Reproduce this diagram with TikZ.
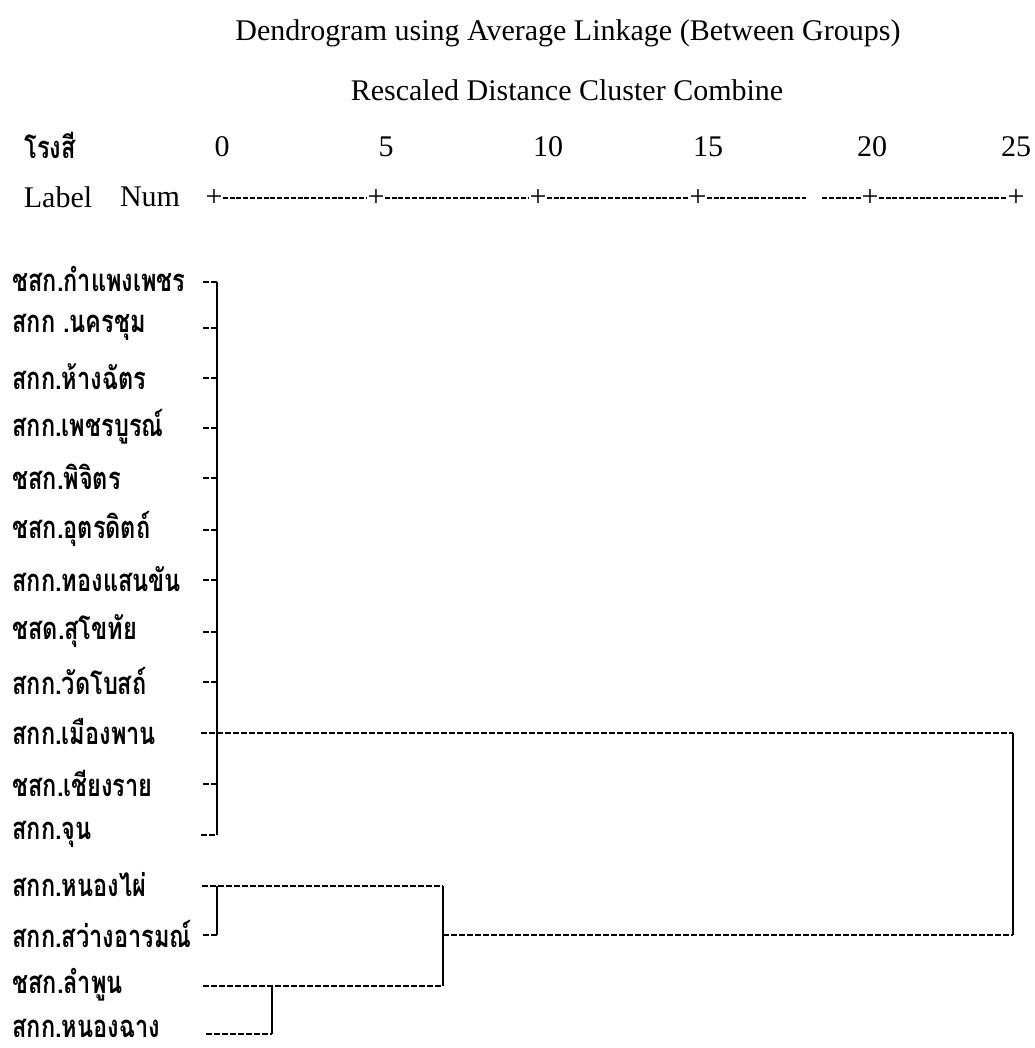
\documentclass[tikz,border=0pt]{standalone}
\usepackage{fontspec}
\setmainfont{Liberation Serif}
\newfontfamily\thaifont[Script=Thai,FakeStretch=0.76]{Loma}

\begin{document}
\begin{tikzpicture}[x=0.5pt,y=-0.5pt,
  head/.style={font=\fontsize{15}{18}\selectfont,inner sep=0pt},
  lbl/.style={font=\thaifont\bfseries\fontsize{15.5}{18}\selectfont,anchor=west,inner sep=0pt},
  tick/.style={line width=1.15pt,dash pattern=on 3pt off 1pt},
  joinline/.style={line width=1.35pt},
  axisdash/.style={line width=0.7pt,dash pattern=on 2.5pt off 0.9pt}]
  \useasboundingbox (0,0) rectangle (1034,1048);
  \node[head] (title) at (568,33) {Dendrogram using Average Linkage (Between Groups)};
  \node[head] (sub) at (567,90) {Rescaled Distance Cluster Combine};
  \node[lbl,anchor=center] (mill) at (50,145) {โรงสี};
  \node[head] (n0) at (222,147) {0};
  \node[head] (n5) at (386,147) {5};
  \node[head] (n10) at (548,147) {10};
  \node[head] (n15) at (708,147) {15};
  \node[head] (n20) at (872,147) {20};
  \node[head] (n25) at (1016,147) {25};
  \node[head] (lab) at (58,197) {Label};
  \node[head] (num) at (150,197) {Num};
  \node[head] (p0) at (214,198) {+};
  \node[head] (p5) at (376,198) {+};
  \node[head] (p10) at (538,198) {+};
  \node[head] (p15) at (698,198) {+};
  \node[head] (p20) at (870,198) {+};
  \node[head] (p25) at (1016,198) {+};
  \coordinate (gapa) at (806,198);
  \coordinate (gapb) at (822,198);
  \draw[axisdash] (p0) -- (p5) -- (p10) -- (p15) -- (gapa);
  \draw[axisdash] (gapb) -- (p20) -- (p25);
  \node[lbl] (l1) at (12,279) {ชสก.กำแพงเพชร};
  \node[lbl] (l2) at (12,327) {สกก .นครชุม};
  \node[lbl] (l3) at (12,377) {สกก.ห้างฉัตร};
  \node[lbl] (l4) at (12,427) {สกก.เพชรบูรณ์};
  \node[lbl] (l5) at (12,477) {ชสก.พิจิตร};
  \node[lbl] (l6) at (12,529) {ชสก.อุตรดิตถ์};
  \node[lbl] (l7) at (12,579) {สกก.ทองแสนขัน};
  \node[lbl] (l8) at (12,631) {ชสด.สุโขทัย};
  \node[lbl] (l9) at (12,681) {สกก.วัดโบสถ์};
  \node[lbl] (l10) at (12,732) {สกก.เมืองพาน};
  \node[lbl] (l11) at (12,783) {ชสก.เชียงราย};
  \node[lbl] (l12) at (12,834) {สกก.จุน};
  \node[lbl] (l13) at (12,885) {สกก.หนองไผ่};
  \node[lbl] (l14) at (12,934) {สกก.สว่างอารมณ์};
  \node[lbl] (l15) at (12,985) {ชสก.ลำพูน};
  \node[lbl] (l16) at (12,1028) {สกก.หนองฉาง};
  \coordinate (t1) at (203,282);
  \coordinate (t2) at (203,328);
  \coordinate (t3) at (203,378);
  \coordinate (t4) at (203,428);
  \coordinate (t5) at (203,478);
  \coordinate (t6) at (203,530);
  \coordinate (t7) at (203,580);
  \coordinate (t8) at (203,632);
  \coordinate (t9) at (203,682);
  \coordinate (t10) at (201,733);
  \coordinate (t11) at (203,784);
  \coordinate (t12) at (201,835);
  \coordinate (t13) at (202,886);
  \coordinate (t14) at (203,935);
  \coordinate (t15) at (203,986);
  \coordinate (t16) at (206,1034);
  \coordinate (atop) at (217,282);
  \coordinate (abot) at (217,835);
  \coordinate (btop) at (217,886);
  \coordinate (bbot) at (217,935);
  \coordinate (ctop) at (272,986);
  \coordinate (cbot) at (272,1034);
  \coordinate (bctop) at (443,886);
  \coordinate (bcmid) at (443,935);
  \coordinate (bcbot) at (443,986);
  \coordinate (roottop) at (1013,733);
  \coordinate (rootbot) at (1013,935);
  \draw[tick] (t1) -- (atop);
  \draw[tick] (t2) -- (t2 -| atop);
  \draw[tick] (t3) -- (t3 -| atop);
  \draw[tick] (t4) -- (t4 -| atop);
  \draw[tick] (t5) -- (t5 -| atop);
  \draw[tick] (t6) -- (t6 -| atop);
  \draw[tick] (t7) -- (t7 -| atop);
  \draw[tick] (t8) -- (t8 -| atop);
  \draw[tick] (t9) -- (t9 -| atop);
  \draw[tick] (t11) -- (t11 -| atop);
  \draw[tick] (t12) -- (abot);
  \draw[tick] (t14) -- (bbot);
  \draw[joinline] (atop) -- (abot);
  \draw[joinline] (btop) -- (bbot);
  \draw[joinline] (ctop) -- (cbot);
  \draw[joinline] (bctop) -- (bcbot);
  \draw[joinline] (roottop) -- (rootbot);
  \draw[tick] (t10) -- (roottop);
  \draw[tick] (t13) -- (bctop);
  \draw[tick] (t15) -- (bcbot);
  \draw[tick] (t16) -- (cbot);
  \draw[tick] (bcmid) -- (rootbot);
\end{tikzpicture}
\end{document}
